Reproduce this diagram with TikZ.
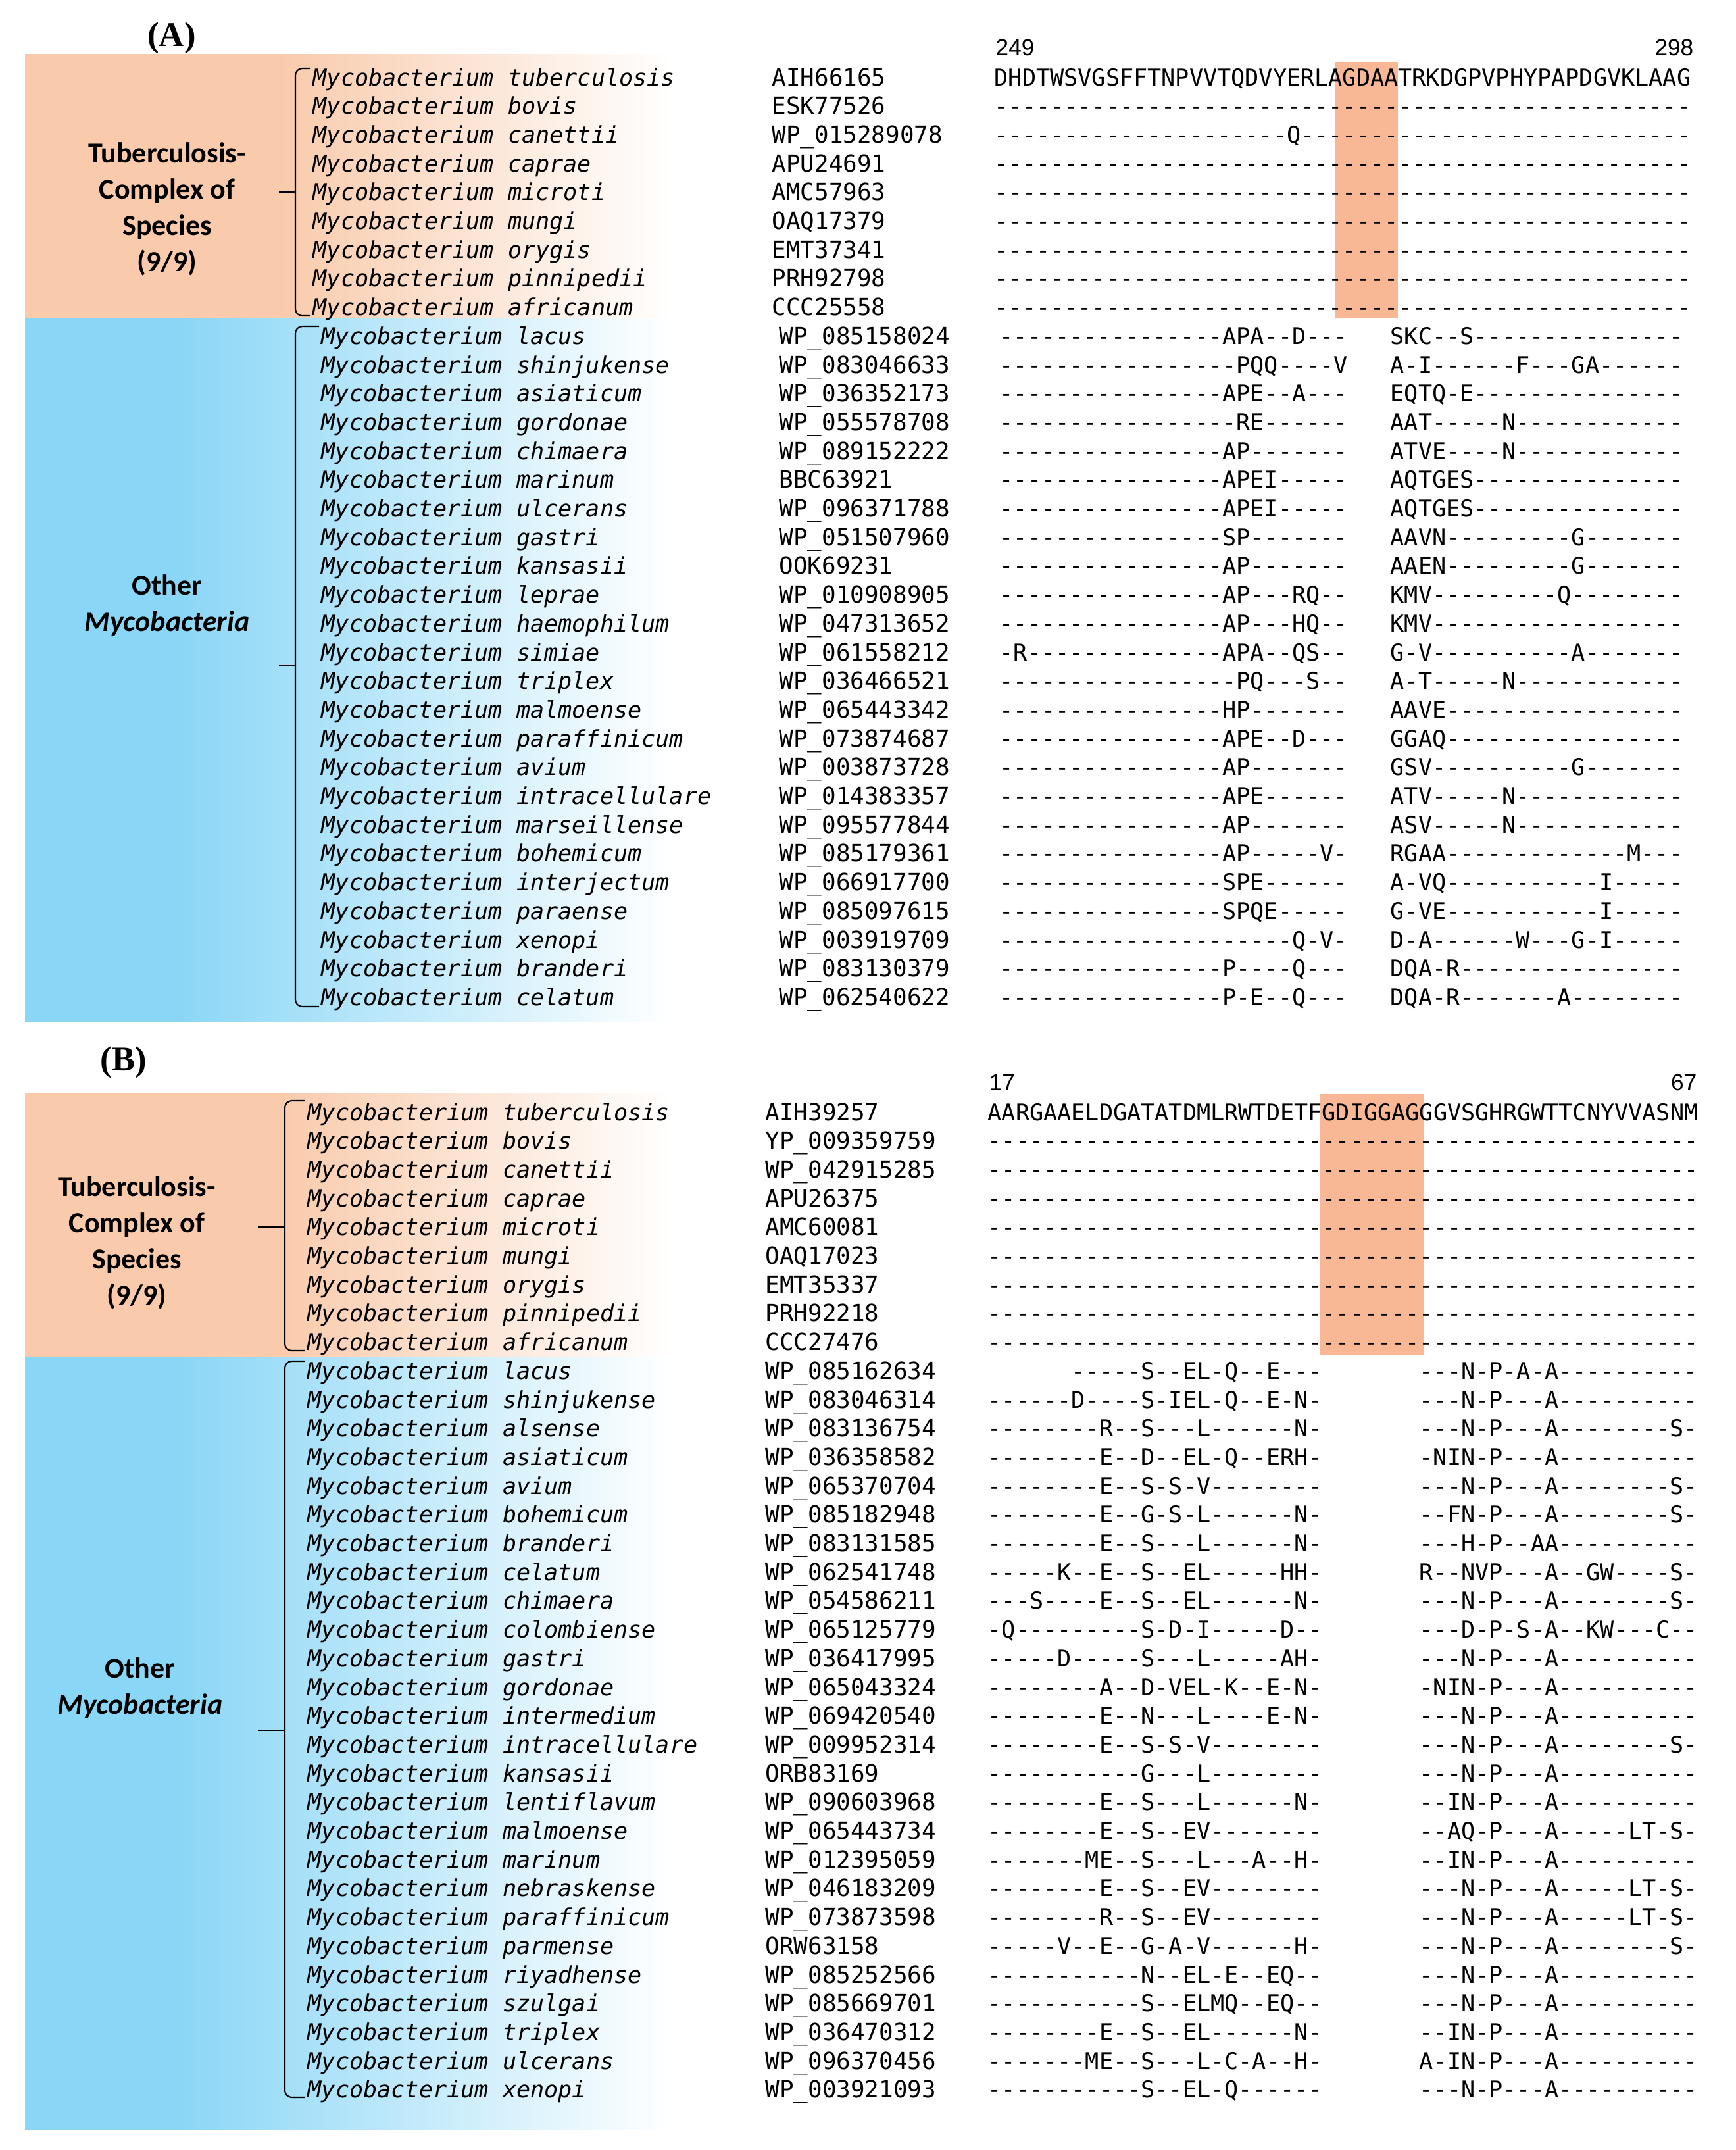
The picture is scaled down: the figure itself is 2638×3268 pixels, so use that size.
\documentclass[tikz,border=0pt]{standalone}
\usepackage{fontspec}
\setmainfont{Liberation Serif}
\setsansfont{Carlito}
\setmonofont[Ligatures=TeXOff]{DejaVu Sans Mono}
\newfontfamily\numfont{Liberation Sans}

\definecolor{tbor}{RGB}{249,203,172}
\definecolor{hilite}{RGB}{248,184,150}
\definecolor{othblue}{RGB}{138,214,246}
\pgfdeclarehorizontalshading{tbfade}{100bp}{color(0bp)=(tbor); color(42bp)=(tbor); color(68bp)=(white); color(100bp)=(white)}
\pgfdeclarehorizontalshading{othfade}{100bp}{color(0bp)=(othblue); color(35bp)=(othblue); color(68bp)=(white); color(100bp)=(white)}

\ExplSyntaxOn
\cs_new:Npn \dsh #1 { \prg_replicate:nn {#1} {-} }
\ExplSyntaxOff

\tikzset{
  spname/.style={anchor=base west, inner sep=0pt, font=\ttfamily\itshape\fontsize{10}{12}\selectfont},
  accno/.style={anchor=base west, inner sep=0pt, font=\ttfamily\fontsize{10.2}{12}\selectfont},
  seqtxt/.style={anchor=base west, inner sep=0pt, font=\ttfamily\fontsize{10}{12}\selectfont},
  grouplbl/.style={align=center, inner sep=0pt, font=\sffamily\bfseries\fontsize{12.5}{15.7}\selectfont},
  panel/.style={inner sep=0pt, font=\rmfamily\bfseries\fontsize{15}{18}\selectfont},
  posnum/.style={inner sep=0pt, font=\numfont\fontsize{10}{12}\selectfont},
  clade/.style={line width=0.6pt, rounded corners=3pt}
}

\begin{document}
\begin{tikzpicture}[x=0.01cm, y=-0.01cm]
  \useasboundingbox (0,0) rectangle (2638,3268);
  % coloured bands and conserved block
  \shade[shading=tbfade] (38,82) rectangle (1180,483);
  \shade[shading=othfade] (38,483) rectangle (1180,1553);
  \shade[shading=tbfade] (38,1661) rectangle (1180,2063);
  \shade[shading=othfade] (38,2063) rectangle (1180,3236);
  \fill[hilite] (2030,94) rectangle (2125,483);
  \fill[hilite] (2006,1663) rectangle (2164,2060);

  % ---------------- panel A ----------------
  \node[panel] (labA) at (261,58) {(A)};
  \node[posnum, anchor=base west] (posA1) at (1513,84) {249};
  \node[posnum, anchor=base east] (posA2) at (2575,84) {298};
  \node[grouplbl] (tbA) at (254,318) {Tuberculosis-\\Complex of\\Species\\(9/9)};
  \node[grouplbl] (othA) at (254,920) {Other\\\textit{Mycobacteria}};

  \foreach \sp/\acc/\sq [count=\i] in {
    tuberculosis/AIH66165/DHDTWSVGSFFTNPVVTQDVYERLAGDAATRKDGPVPHYPAPDGVKLAAG,
    bovis/ESK77526/\dsh{50},
    canettii/WP\_015289078/\dsh{21}Q\dsh{28},
    caprae/APU24691/\dsh{50},
    microti/AMC57963/\dsh{50},
    mungi/OAQ17379/\dsh{50},
    orygis/EMT37341/\dsh{50},
    pinnipedii/PRH92798/\dsh{50},
    africanum/CCC25558/\dsh{50}}{
    \node[spname] (spA\i) at (475,{86.3+43.7*\i}) {Mycobacterium \sp};
    \node[accno] (acA\i) at (1173,{86.3+43.7*\i}) {\acc};
    \node[seqtxt] (sqA\i) at (1511,{86.3+43.7*\i}) {\sq};
  }

  \foreach \sp/\acc/\lseq/\rseq [count=\i] in {
    lacus/WP\_085158024/\dsh{16}APA\dsh{2}D\dsh{3}/SKC\dsh{2}S\dsh{15},
    shinjukense/WP\_083046633/\dsh{17}PQQ\dsh{4}V/A-I\dsh{6}F\dsh{3}GA\dsh{6},
    asiaticum/WP\_036352173/\dsh{16}APE\dsh{2}A\dsh{3}/EQTQ-E\dsh{15},
    gordonae/WP\_055578708/\dsh{17}RE\dsh{6}/AAT\dsh{5}N\dsh{12},
    chimaera/WP\_089152222/\dsh{16}AP\dsh{7}/ATVE\dsh{4}N\dsh{12},
    marinum/BBC63921/\dsh{16}APEI\dsh{5}/AQTGES\dsh{15},
    ulcerans/WP\_096371788/\dsh{16}APEI\dsh{5}/AQTGES\dsh{15},
    gastri/WP\_051507960/\dsh{16}SP\dsh{7}/AAVN\dsh{9}G\dsh{7},
    kansasii/OOK69231/\dsh{16}AP\dsh{7}/AAEN\dsh{9}G\dsh{7},
    leprae/WP\_010908905/\dsh{16}AP\dsh{3}RQ\dsh{2}/KMV\dsh{9}Q\dsh{8},
    haemophilum/WP\_047313652/\dsh{16}AP\dsh{3}HQ\dsh{2}/KMV\dsh{18},
    simiae/WP\_061558212/-R\dsh{14}APA\dsh{2}QS\dsh{2}/G-V\dsh{10}A\dsh{7},
    triplex/WP\_036466521/\dsh{17}PQ\dsh{3}S\dsh{2}/A-T\dsh{5}N\dsh{12},
    malmoense/WP\_065443342/\dsh{16}HP\dsh{7}/AAVE\dsh{17},
    paraffinicum/WP\_073874687/\dsh{16}APE\dsh{2}D\dsh{3}/GGAQ\dsh{17},
    avium/WP\_003873728/\dsh{16}AP\dsh{7}/GSV\dsh{10}G\dsh{7},
    intracellulare/WP\_014383357/\dsh{16}APE\dsh{6}/ATV\dsh{5}N\dsh{12},
    marseillense/WP\_095577844/\dsh{16}AP\dsh{7}/ASV\dsh{5}N\dsh{12},
    bohemicum/WP\_085179361/\dsh{16}AP\dsh{5}V-/RGAA\dsh{13}M\dsh{3},
    interjectum/WP\_066917700/\dsh{16}SPE\dsh{6}/A-VQ\dsh{11}I\dsh{5},
    paraense/WP\_085097615/\dsh{16}SPQE\dsh{5}/G-VE\dsh{11}I\dsh{5},
    xenopi/WP\_003919709/\dsh{21}Q-V-/D-A\dsh{6}W\dsh{3}G-I\dsh{5},
    branderi/WP\_083130379/\dsh{16}P\dsh{4}Q\dsh{3}/DQA-R\dsh{16},
    celatum/WP\_062540622/\dsh{16}P-E\dsh{2}Q\dsh{3}/DQA-R\dsh{7}A\dsh{8}}{
    \node[spname] (spA\i o) at (488,{479.6+43.7*\i}) {Mycobacterium \sp};
    \node[accno] (acA\i o) at (1184,{479.6+43.7*\i}) {\acc};
    \node[seqtxt] (lqA\i) at (1519,{479.6+43.7*\i}) {\lseq};
    \node[seqtxt] (rqA\i) at (2113,{479.6+43.7*\i}) {\rseq};
  }

  % clade brackets A
  \draw[clade] (472,104) -- (449,104) -- (449,480) -- (472,480);
  \draw[clade] (449,292) -- (424,292);
  \draw[clade] (485,496) -- (449,496) -- (449,1530) -- (485,1530);
  \draw[clade] (449,1012) -- (424,1012);

  % ---------------- panel B ----------------
  \node[panel] (labB) at (188,1615) {(B)};
  \node[posnum, anchor=base west] (posB1) at (1503,1657) {17};
  \node[posnum, anchor=base east] (posB2) at (2580,1657) {67};
  \node[grouplbl] (tbB) at (208,1889) {Tuberculosis-\\Complex of\\Species\\(9/9)};
  \node[grouplbl] (othB) at (213,2566) {Other\\\textit{Mycobacteria}};

  \foreach \sp/\acc/\sq [count=\i] in {
    tuberculosis/AIH39257/AARGAAELDGATATDMLRWTDETFGDIGGAGGGVSGHRGWTTCNYVVASNM,
    bovis/YP\_009359759/\dsh{51},
    canettii/WP\_042915285/\dsh{51},
    caprae/APU26375/\dsh{51},
    microti/AMC60081/\dsh{51},
    mungi/OAQ17023/\dsh{51},
    orygis/EMT35337/\dsh{51},
    pinnipedii/PRH92218/\dsh{51},
    africanum/CCC27476/\dsh{51}}{
    \node[spname] (spB\i) at (467,{1659.3+43.7*\i}) {Mycobacterium \sp};
    \node[accno] (acB\i) at (1163,{1659.3+43.7*\i}) {\acc};
    \node[seqtxt] (sqB\i) at (1501,{1659.3+43.7*\i}) {\sq};
  }

  \foreach \sp/\acc/\sc/\lseq/\rseq [count=\i] in {
    lacus/WP\_085162634/6/\dsh{5}S\dsh{2}EL-Q\dsh{2}E\dsh{3}/\dsh{3}N-P-A-A\dsh{10},
    shinjukense/WP\_083046314/0/\dsh{6}D\dsh{4}S-IEL-Q\dsh{2}E-N-/\dsh{3}N-P\dsh{3}A\dsh{10},
    alsense/WP\_083136754/0/\dsh{8}R\dsh{2}S\dsh{3}L\dsh{6}N-/\dsh{3}N-P\dsh{3}A\dsh{8}S-,
    asiaticum/WP\_036358582/0/\dsh{8}E\dsh{2}D\dsh{2}EL-Q\dsh{2}ERH-/-NIN-P\dsh{3}A\dsh{10},
    avium/WP\_065370704/0/\dsh{8}E\dsh{2}S-S-V\dsh{8}/\dsh{3}N-P\dsh{3}A\dsh{8}S-,
    bohemicum/WP\_085182948/0/\dsh{8}E\dsh{2}G-S-L\dsh{6}N-/--FN-P\dsh{3}A\dsh{8}S-,
    branderi/WP\_083131585/0/\dsh{8}E\dsh{2}S\dsh{3}L\dsh{6}N-/\dsh{3}H-P--AA\dsh{10},
    celatum/WP\_062541748/0/\dsh{5}K\dsh{2}E\dsh{2}S\dsh{2}EL\dsh{5}HH-/R--NVP\dsh{3}A--GW\dsh{4}S-,
    chimaera/WP\_054586211/0/\dsh{3}S\dsh{4}E\dsh{2}S\dsh{2}EL\dsh{6}N-/\dsh{3}N-P\dsh{3}A\dsh{8}S-,
    colombiense/WP\_065125779/0/-Q\dsh{9}S-D-I\dsh{5}D--/\dsh{3}D-P-S-A--KW\dsh{3}C--,
    gastri/WP\_036417995/0/\dsh{5}D\dsh{5}S\dsh{3}L\dsh{5}AH-/\dsh{3}N-P\dsh{3}A\dsh{10},
    gordonae/WP\_065043324/0/\dsh{8}A\dsh{2}D-VEL-K\dsh{2}E-N-/-NIN-P\dsh{3}A\dsh{10},
    intermedium/WP\_069420540/0/\dsh{8}E\dsh{2}N\dsh{3}L\dsh{4}E-N-/\dsh{3}N-P\dsh{3}A\dsh{10},
    intracellulare/WP\_009952314/0/\dsh{8}E\dsh{2}S-S-V\dsh{8}/\dsh{3}N-P\dsh{3}A\dsh{8}S-,
    kansasii/ORB83169/0/\dsh{11}G\dsh{3}L\dsh{8}/\dsh{3}N-P\dsh{3}A\dsh{10},
    lentiflavum/WP\_090603968/0/\dsh{8}E\dsh{2}S\dsh{3}L\dsh{6}N-/--IN-P\dsh{3}A\dsh{10},
    malmoense/WP\_065443734/0/\dsh{8}E\dsh{2}S\dsh{2}EV\dsh{8}/--AQ-P\dsh{3}A\dsh{5}LT-S-,
    marinum/WP\_012395059/0/\dsh{7}ME\dsh{2}S\dsh{3}L\dsh{3}A\dsh{2}H-/--IN-P\dsh{3}A\dsh{10},
    nebraskense/WP\_046183209/0/\dsh{8}E\dsh{2}S\dsh{2}EV\dsh{8}/\dsh{3}N-P\dsh{3}A\dsh{5}LT-S-,
    paraffinicum/WP\_073873598/0/\dsh{8}R\dsh{2}S\dsh{2}EV\dsh{8}/\dsh{3}N-P\dsh{3}A\dsh{5}LT-S-,
    parmense/ORW63158/0/\dsh{5}V\dsh{2}E\dsh{2}G-A-V\dsh{6}H-/\dsh{3}N-P\dsh{3}A\dsh{8}S-,
    riyadhense/WP\_085252566/0/\dsh{11}N\dsh{2}EL-E\dsh{2}EQ\dsh{2}/\dsh{3}N-P\dsh{3}A\dsh{10},
    szulgai/WP\_085669701/0/\dsh{11}S\dsh{2}ELMQ\dsh{2}EQ\dsh{2}/\dsh{3}N-P\dsh{3}A\dsh{10},
    triplex/WP\_036470312/0/\dsh{8}E\dsh{2}S\dsh{2}EL\dsh{6}N-/--IN-P\dsh{3}A\dsh{10},
    ulcerans/WP\_096370456/0/\dsh{7}ME\dsh{2}S\dsh{3}L-C-A\dsh{2}H-/A-IN-P\dsh{3}A\dsh{10},
    xenopi/WP\_003921093/0/\dsh{11}S\dsh{2}EL-Q\dsh{6}/\dsh{3}N-P\dsh{3}A\dsh{10}}{
    \node[spname] (spB\i o) at (467,{2052.6+43.7*\i}) {Mycobacterium \sp};
    \node[accno] (acB\i o) at (1163,{2052.6+43.7*\i}) {\acc};
    \node[seqtxt] (lqB\i) at ({1501+21.16*\sc},{2052.6+43.7*\i}) {\lseq};
    \node[seqtxt] (rqB\i) at (2157,{2052.6+43.7*\i}) {\rseq};
  }

  % clade brackets B
  \draw[clade] (463,1673) -- (433,1673) -- (433,2053) -- (463,2053);
  \draw[clade] (433,1865) -- (392,1865);
  \draw[clade] (463,2069) -- (433,2069) -- (433,3188) -- (463,3188);
  \draw[clade] (433,2630) -- (392,2630);
\end{tikzpicture}
\end{document}
